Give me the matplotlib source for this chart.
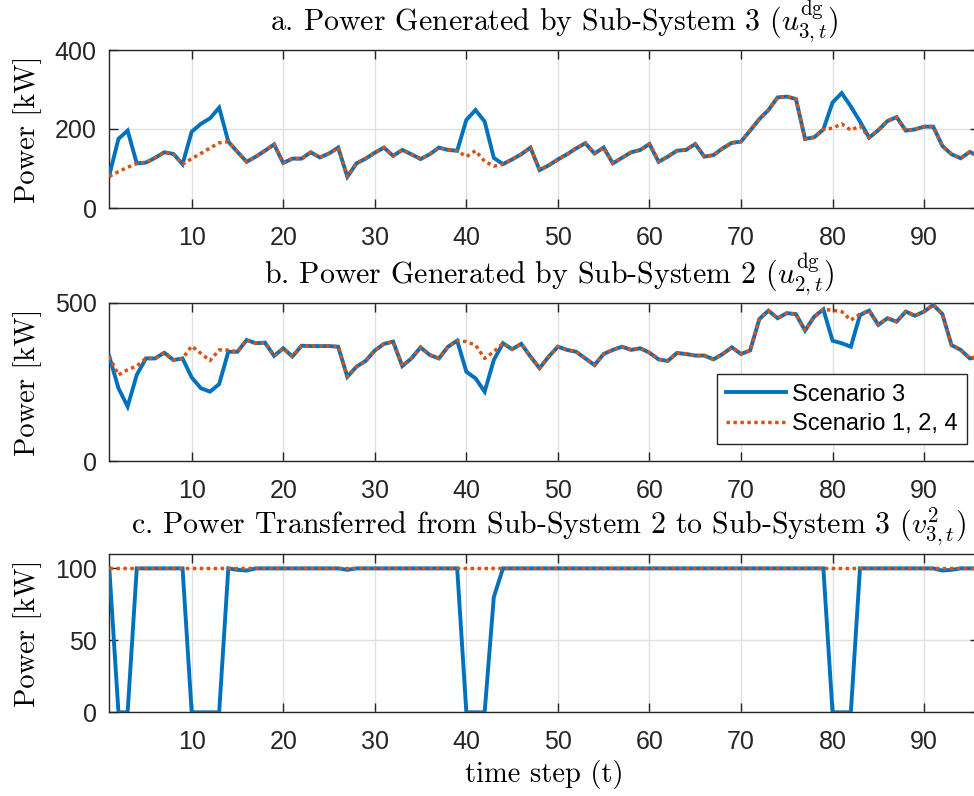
import matplotlib
matplotlib.use("Agg")
import matplotlib.pyplot as plt
import numpy as np

# ---------------- data ----------------
t = list(range(1, 97))

# a. Power generated by Sub-System 3
u3_scen3 = [83, 175, 196, 113, 115, 127, 141, 137, 111, 193,
            213, 227, 254, 168, 142, 117, 130, 145, 161, 114,
            125, 125, 141, 128, 138, 153, 79, 113, 125, 140,
            153, 132, 147, 136, 124, 136, 153, 147, 145, 223,
            248, 219, 127, 111, 123, 136, 153, 96, 108, 123,
            136, 151, 164, 138, 153, 113, 127, 141, 147, 162,
            117, 130, 145, 147, 162, 130, 134, 151, 165, 168,
            196, 225, 248, 280, 282, 276, 175, 179, 199, 267,
            291, 257, 219, 178, 197, 220, 230, 196, 199, 206,
            206, 157, 136, 126, 142, 130]
u3_scen124 = [80, 92, 103, 113, 115, 127, 141, 137, 111, 125,
              138, 152, 165, 168, 142, 117, 130, 145, 161, 114,
              125, 125, 141, 128, 138, 153, 79, 113, 125, 140,
              153, 132, 147, 136, 124, 136, 153, 147, 145, 130,
              145, 118, 106, 111, 123, 136, 153, 96, 108, 123,
              136, 151, 164, 138, 153, 113, 127, 141, 147, 162,
              117, 130, 145, 147, 162, 130, 134, 151, 165, 168,
              196, 225, 248, 280, 282, 276, 175, 179, 199, 202,
              213, 197, 208, 178, 197, 220, 230, 196, 199, 206,
              206, 157, 136, 126, 142, 130]

# b. Power generated by Sub-System 2
u2_scen3 = [330, 230, 172, 272, 324, 324, 342, 319, 324, 264,
            230, 219, 243, 345, 345, 382, 372, 374, 332, 356,
            330, 364, 363, 363, 363, 361, 266, 298, 316, 349,
            370, 377, 300, 324, 359, 335, 324, 361, 380, 282,
            261, 219, 319, 372, 353, 370, 330, 293, 330, 361,
            351, 345, 324, 303, 338, 351, 361, 351, 356, 342,
            321, 316, 341, 338, 333, 333, 321, 338, 359, 338,
            349, 448, 475, 451, 467, 464, 412, 456, 479, 380,
            372, 361, 461, 475, 430, 451, 440, 472, 459, 472,
            493, 464, 366, 351, 324, 330]
u2_scen124 = [330, 272, 288, 300, 324, 324, 342, 319, 324, 363,
              340, 317, 351, 350, 345, 382, 372, 374, 332, 356,
              330, 364, 363, 363, 363, 361, 266, 298, 316, 349,
              370, 377, 300, 324, 359, 335, 324, 361, 380, 377,
              366, 324, 345, 372, 353, 370, 330, 293, 330, 361,
              351, 345, 324, 303, 338, 351, 361, 351, 356, 342,
              321, 316, 341, 338, 333, 333, 321, 338, 359, 338,
              349, 448, 475, 451, 467, 464, 412, 456, 479, 476,
              472, 445, 464, 475, 430, 451, 440, 472, 459, 472,
              493, 464, 366, 351, 324, 330]

# c. Power transferred from Sub-System 2 to Sub-System 3
v_scen3 = [100, 0, 0, 100, 100, 100, 100, 100, 100, 0,
           0, 0, 0, 100, 99, 98.5, 100, 100, 100, 100,
           100, 100, 100, 100, 100, 100, 99, 100, 100, 100,
           100, 100, 100, 100, 100, 100, 100, 100, 100, 0,
           0, 0, 80, 100, 100, 100, 100, 100, 100, 100,
           100, 100, 100, 100, 100, 100, 100, 100, 100, 100,
           100, 100, 100, 100, 100, 100, 100, 100, 100, 100,
           100, 100, 100, 100, 100, 100, 100, 100, 100, 0,
           0, 0, 100, 100, 100, 100, 100, 100, 100, 100,
           100, 98.5, 99, 100, 100, 100]
v_scen124 = [100, 100, 100, 100, 100, 100, 100, 100, 100, 100,
             100, 100, 100, 100, 100, 100, 100, 100, 100, 100,
             100, 100, 100, 100, 100, 100, 100, 100, 100, 100,
             100, 100, 100, 100, 100, 100, 100, 100, 100, 100,
             100, 100, 100, 100, 100, 100, 100, 100, 100, 100,
             100, 100, 100, 100, 100, 100, 100, 100, 100, 100,
             100, 100, 100, 100, 100, 100, 100, 100, 100, 100,
             100, 100, 100, 100, 100, 100, 100, 100, 100, 100,
             100, 100, 100, 100, 100, 100, 100, 100, 100, 100,
             100, 100, 100, 100, 100, 100]

x_ticks = [10, 20, 30, 40, 50, 60, 70, 80, 90]
y_ticks_a = [0, 200, 400]
y_ticks_b = [0, 500]
y_ticks_c = [0, 50, 100]

titles = [r"a. Power Generated by Sub-System 3 ($u^{\mathrm{dg}}_{3,t}$)",
          r"b. Power Generated by Sub-System 2 ($u^{\mathrm{dg}}_{2,t}$)",
          r"c. Power Transferred from Sub-System 2 to Sub-System 3 ($v^{2}_{3,t}$)"]
ylabel = "Power [kW]"
xlabel = "time step (t)"
legend_labels = ["Scenario 3", "Scenario 1, 2, 4"]

# ---------------- style ----------------
plt.rcParams['mathtext.fontset'] = 'cm'
plt.rcParams['font.family'] = ['Liberation Sans', 'DejaVu Sans']
plt.rcParams['axes.unicode_minus'] = False

BLUE = '#0072BD'
ORANGE = '#D95319'
DARK = '#262626'
GRID = '#e0e0e0'

fig = plt.figure(figsize=(9.74, 7.96), dpi=100)

L = 109.3 / 974
W = (979 - 109.3) / 974
H = 796.0
positions = [
    (L, 1 - 208.0 / H, W, 158.0 / H),
    (L, 1 - 461.0 / H, W, 158.3 / H),
    (L, 1 - 712.3 / H, W, 158.3 / H),
]
series = [(u3_scen3, u3_scen124, y_ticks_a, (0, 400)),
          (u2_scen3, u2_scen124, y_ticks_b, (0, 500)),
          (v_scen3, v_scen124, y_ticks_c, (0, 110))]
title_x = [0.512, 0.506, 0.505]

axes = []
for i, (pos, (s3, s124, yt, yl)) in enumerate(zip(positions, series)):
    ax = fig.add_axes(pos)
    axes.append(ax)
    l1, = ax.plot(t, s3, color=BLUE, lw=2.8, solid_joinstyle='miter', zorder=3)
    l2, = ax.plot(t, s124, color=ORANGE, lw=2.5, linestyle=(0, (1, 1)),
                  dash_capstyle='butt', zorder=4)
    ax.set_xlim(1, 96)
    ax.set_ylim(*yl)
    ax.set_xticks(x_ticks)
    ax.set_yticks(yt)
    ax.grid(True, color=GRID, lw=1.0)
    ax.set_axisbelow(True)
    ax.tick_params(direction='in', length=6.3, width=1.0, colors=DARK,
                   labelsize=18, top=True, right=True, pad=9)
    ax.tick_params(axis='x', pad=13)
    for sp in ax.spines.values():
        sp.set_color(DARK)
        sp.set_linewidth(1.0)
    ax.set_title(titles[i], fontfamily='cmr10', fontsize=21.5, pad=14,
                 color='black', x=title_x[i])
    ax.set_ylabel(ylabel, fontfamily='cmr10', fontsize=20.5, color='black')
    ax.yaxis.set_label_coords(-0.0774, 0.5)
    if i == 1:
        leg = ax.legend([l1, l2], legend_labels, loc='upper right',
                        bbox_to_anchor=(0.9866, 0.5477),
                        borderaxespad=0,
                        fontsize=17, frameon=True, fancybox=False,
                        edgecolor=DARK, handlelength=2.55, handletextpad=0.25,
                        labelspacing=0.3, borderpad=0.4)
        leg.get_frame().set_linewidth(1.0)
        leg.get_frame().set_alpha(1)

axes[2].set_xlabel(xlabel, fontfamily='cmr10', fontsize=20.5, color='black')
axes[2].xaxis.set_label_coords(0.5, -0.30)

fig.savefig('out.png', dpi=100)
